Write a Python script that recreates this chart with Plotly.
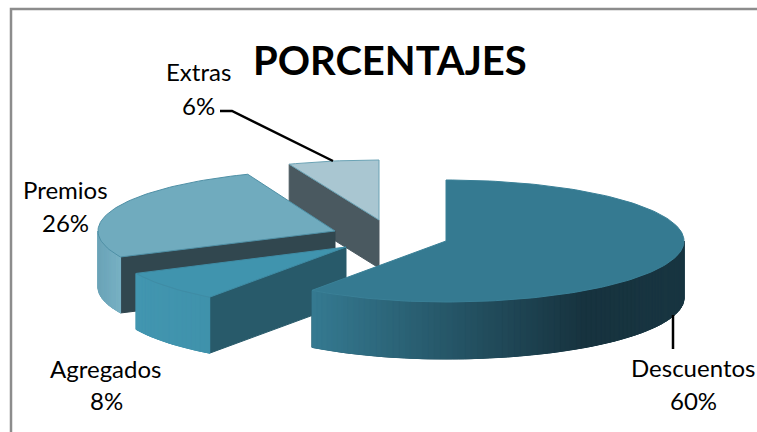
import math
import plotly.graph_objects as go

# Chart data
categories = ["Descuentos", "Agregados", "Premios", "Extras"]
values = [60, 8, 26, 6]
title_text = "PORCENTAJES"

# Pie geometry in pixel space: hub position, radii and wall depth of each exploded slice
hub_x = [446, 346, 335, 379]
hub_y = [241, 247, 231, 220]
radius_left = [228, 232, 237, 244]
radius_right = [238, 230, 238, 244]
radius_y = [61, 62, 61, 60]
depth = [57, 56, 56, 48]

# Slice colours
top_colour = ["#357a91", "#4094ae", "#70abbe", "#a9c6d1"]
cut_colour = [None, "#285a6a", "#31474f", "#4a5960"]
edge_colour = ["#3a8097", "#3f8ca5", "#4f90a6", "#6ba3b5"]
# Outer wall shading: (pixel x, hex colour) stops from left to right
wall_stops = [
    [(312, "#357a91"), (583, "#17333f"), (685, "#183540")],
    [(134, "#4296b0"), (212, "#3f92ab")],
    [(97, "#6aa3b7"), (124, "#7ab3c5")],
    None,
]

W, H = 757, 432


def rim(i, deg):
    """Point on the top rim of slice i at a clockwise angle from 12 o'clock."""
    t = math.radians(deg)
    s, c = math.sin(t), math.cos(t)
    rx = radius_left[i] if s < 0 else radius_right[i]
    return hub_x[i] + rx * s, hub_y[i] - radius_y[i] * c


def mix(stops, x):
    """Colour of a wall gradient at pixel x."""
    if x <= stops[0][0]:
        return stops[0][1]
    for (x0, c0), (x1, c1) in zip(stops, stops[1:]):
        if x <= x1:
            f = (x - x0) / (x1 - x0)
            a = [int(c0[k:k + 2], 16) for k in (1, 3, 5)]
            b = [int(c1[k:k + 2], 16) for k in (1, 3, 5)]
            return "#" + "".join(f"{round(p + (q - p) * f):02x}" for p, q in zip(a, b))
    return stops[-1][1]


def polygon(xs, ys, fill, line=None, width=1):
    return go.Scatter(
        x=xs + xs[:1], y=ys + ys[:1], mode="lines", fill="toself", fillcolor=fill,
        line=dict(color=line or fill, width=width), hoverinfo="skip", showlegend=False,
    )


fig = go.Figure()

# Slice angles come from the values; the back slices are painted first
total = sum(values)
starts, ends, running = [], [], 0.0
for v in values:
    starts.append(running)
    running += v / total * 360
    ends.append(running)

for i in (3, 2, 1, 0):
    a0, a1 = starts[i], ends[i]
    d = depth[i]

    # Cut face along the start radius, visible when it looks toward the viewer
    if cut_colour[i]:
        px, py = rim(i, a0)
        fig.add_trace(polygon([hub_x[i], px, px, hub_x[i]],
                              [hub_y[i], py, py + d, hub_y[i] + d], cut_colour[i]))

    # Outer wall: a solid base, then narrow shaded strips over it
    if wall_stops[i]:
        lo, hi = max(a0, 90), min(a1, 270)
        n = max(2, int((hi - lo) / 1.5))
        span = [rim(i, lo + (hi - lo) * k / n) for k in range(n + 1)]
        fig.add_trace(polygon([p[0] for p in span] + [p[0] for p in reversed(span)],
                              [p[1] for p in span] + [p[1] + d for p in reversed(span)],
                              mix(wall_stops[i], (span[0][0] + span[-1][0]) / 2)))
        for (x0, y0), (x1, y1) in zip(span, span[1:]):
            fig.add_trace(polygon([x0, x1, x1, x0], [y0, y1, y1 + d, y0 + d],
                                  mix(wall_stops[i], (x0 + x1) / 2)))

    # Top face
    steps = max(8, int((a1 - a0) / 1.5))
    arc = [rim(i, a0 + (a1 - a0) * k / steps) for k in range(steps + 1)]
    fig.add_trace(polygon([hub_x[i]] + [p[0] for p in arc],
                          [hub_y[i]] + [p[1] for p in arc],
                          top_colour[i], edge_colour[i]))

# Leader lines for the Extras and Descuentos labels
leaders = [([220, 232, 333], [111, 111, 161]), ([673, 673], [315, 349])]
for lx, ly in leaders:
    fig.add_trace(go.Scatter(x=lx, y=ly, mode="lines", line=dict(color="black", width=2.5),
                             hoverinfo="skip", showlegend=False))

# Chart frame along the left and top edges
fig.add_trace(go.Scatter(x=[11, 11, W], y=[H, 9, 9], mode="lines",
                         line=dict(color="#8c8c8c", width=2.5),
                         hoverinfo="skip", showlegend=False))

# Two-line data labels: name above percentage
label_x = [693, 106, 65, 198]
name_y = [367, 368, 189, 71]
pct_y = [400, 400, 222, 105]
for i, name in enumerate(categories):
    for text, y in ((name, name_y[i]), (f"{values[i]}%", pct_y[i])):
        fig.add_annotation(x=label_x[i], y=y, text=text, showarrow=False,
                           font=dict(family="Lato", size=24, color="black"))

fig.add_annotation(x=390, y=60, text=f"<b>{title_text}</b>", showarrow=False,
                   font=dict(family="Lato", size=40, color="black"))

fig.update_layout(
    width=W, height=H, margin=dict(l=0, r=0, t=0, b=0),
    paper_bgcolor="white", plot_bgcolor="white", showlegend=False,
    xaxis=dict(range=[0, W], visible=False, domain=[0, 1]),
    yaxis=dict(range=[H, 0], visible=False, domain=[0, 1]),
)

fig.write_html("out.html", config=dict(displayModeBar=False))
